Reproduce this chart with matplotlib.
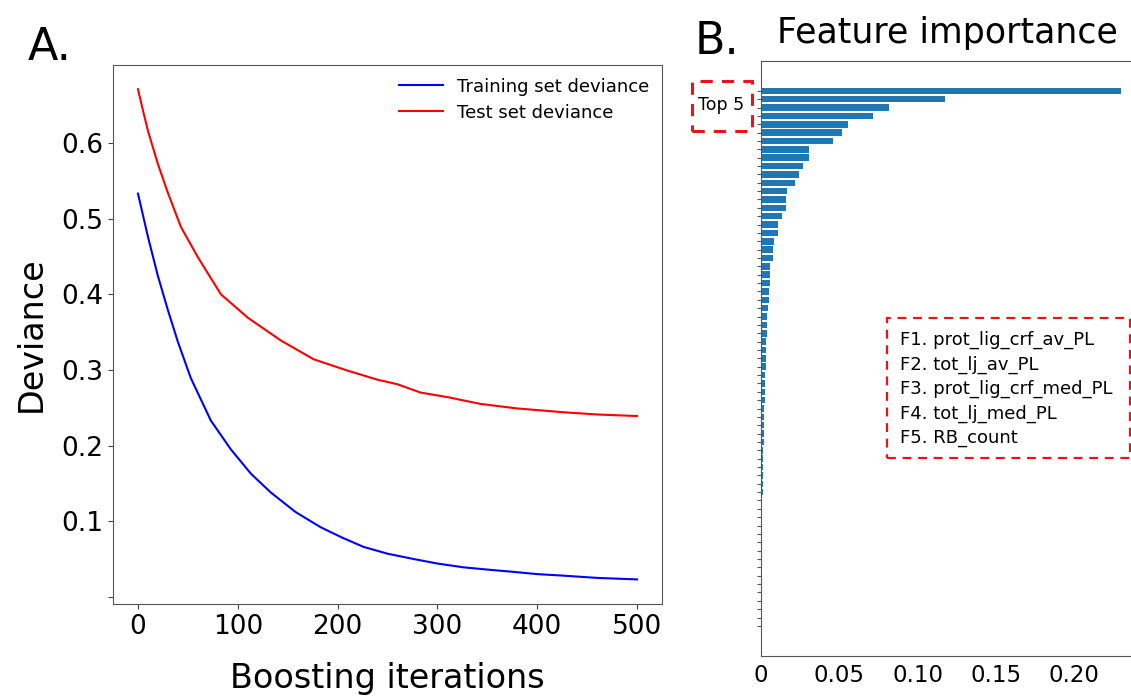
import matplotlib
matplotlib.use("Agg")
import matplotlib.pyplot as plt
from matplotlib.patches import Rectangle

# panel A: deviance vs boosting iterations
iters = [0, 10, 20, 30, 40, 53, 73, 93, 113, 133, 158, 183, 205, 226,
         250, 276, 300, 326, 350, 376, 400, 426, 460, 500]
train_dev = [0.533, 0.476, 0.424, 0.379, 0.337, 0.289, 0.233, 0.195, 0.163, 0.138,
             0.112, 0.092, 0.078, 0.066, 0.057, 0.050, 0.044, 0.039, 0.036, 0.033,
             0.030, 0.028, 0.025, 0.023]
test_iters = [0, 5, 10, 20, 30, 43, 60, 83, 110, 143, 176, 210, 240, 260, 283,
              310, 343, 380, 426, 460, 500]
test_dev = [0.671, 0.643, 0.616, 0.572, 0.534, 0.489, 0.449, 0.400, 0.369, 0.339, 0.314,
            0.299, 0.287, 0.281, 0.270, 0.264, 0.255, 0.249, 0.244, 0.241, 0.239]

# panel B: feature importances, sorted from largest to smallest (65 features)
importances = [0.2295, 0.1178, 0.0818, 0.0716, 0.0554, 0.0517, 0.0458, 0.0311,
               0.0307, 0.0270, 0.0245, 0.0217, 0.0168, 0.0164, 0.0164, 0.0138,
               0.0113, 0.0109, 0.0087, 0.0077, 0.0077, 0.0062, 0.0057, 0.0057,
               0.0053, 0.0053, 0.0047, 0.0042, 0.0040, 0.0038, 0.0036, 0.0035,
               0.0033, 0.0031, 0.0030, 0.0028, 0.0027, 0.0025, 0.0024, 0.0022,
               0.0021, 0.0019, 0.0018, 0.0017, 0.0016, 0.0015, 0.0014, 0.0013,
               0.0012, 0.0011, 0.0010, 0.0009, 0.0008, 0.0007,
               0, 0, 0, 0, 0, 0, 0, 0, 0, 0, 0]
top5_names = ["F1. prot_lig_crf_av_PL", "F2. tot_lj_av_PL", "F3. prot_lig_crf_med_PL",
              "F4. tot_lj_med_PL", "F5. RB_count"]

plt.rcParams['font.family'] = ['DejaVu Sans']
fig = plt.figure(figsize=(11.31, 6.96), dpi=100)

W, H = 1131, 696
axA = fig.add_axes([113 / W, (H - 604) / H, 549 / W, 539 / H])
axA.plot(iters, train_dev, color='blue', lw=1.5, label='Training set deviance')
axA.plot(test_iters, test_dev, color='red', lw=1.5, label='Test set deviance')
axA.set_xlim(-25, 525)
axA.set_ylim(-0.0095, 0.703)
axA.set_xticks([0, 100, 200, 300, 400, 500])
axA.set_yticks([0, 0.1, 0.2, 0.3, 0.4, 0.5, 0.6])
axA.set_yticklabels(['', '0.1', '0.2', '0.3', '0.4', '0.5', '0.6'])
axA.tick_params(labelsize=19, color='#444444')
axA.set_xlabel('Boosting iterations', fontsize=24, labelpad=16)
axA.set_ylabel('Deviance', fontsize=24, labelpad=10)
for sp in axA.spines.values():
    sp.set_color('#555555')
axA.legend(loc='upper right', frameon=False, fontsize=13, handlelength=2.4,
           borderaxespad=0.3, labelspacing=0.45)

axB = fig.add_axes([760.7 / W, (H - 656) / H, (1134 - 760.7) / W, (656 - 60.7) / H])
n = len(importances)
ypos = list(range(n))
axB.barh(ypos, importances[::-1], height=0.78, color='#1f77b4', lw=0)
axB.set_ylim(-3.6, n - 1 + 3.6)
axB.set_xlim(0, 0.238)
axB.set_yticks(ypos)
axB.set_yticklabels([])
axB.tick_params(axis='y', length=3, color='#555555')
axB.set_xticks([0, 0.05, 0.10, 0.15, 0.20])
axB.set_xticklabels(['0', '0.05', '0.10', '0.15', '0.20'])
axB.tick_params(axis='x', labelsize=16.5, length=0, pad=6)
for sp in axB.spines.values():
    sp.set_color('#555555')

fig.text(28 / W, 1 - 48 / H, 'A.', fontsize=32, va='center', ha='left')
fig.text(695 / W, 1 - 41 / H, 'B.', fontsize=32, va='center', ha='left')
fig.text(947 / W, 1 - 33 / H, 'Feature importance', fontsize=25, va='center', ha='center')

# dashed red boxes
fig.patches.append(Rectangle((692 / W, 1 - 131 / H), 60 / W, 50 / H, transform=fig.transFigure,
                             fill=False, ec='#e8141c', ls=(0, (4, 3)), lw=2.2))
fig.text(721 / W, 1 - 105 / H, 'Top 5', fontsize=12.5, ha='center', va='center')

fig.patches.append(Rectangle((887 / W, 1 - 458 / H), 243 / W, 140 / H, transform=fig.transFigure,
                             fill=False, ec='#e8141c', ls=(0, (4, 3)), lw=1.6))
for k, name in enumerate(top5_names):
    fig.text(900 / W, 1 - (340 + 24.5 * k) / H, name, fontsize=13, ha='left', va='center')

fig.savefig('out.png', dpi=100)
